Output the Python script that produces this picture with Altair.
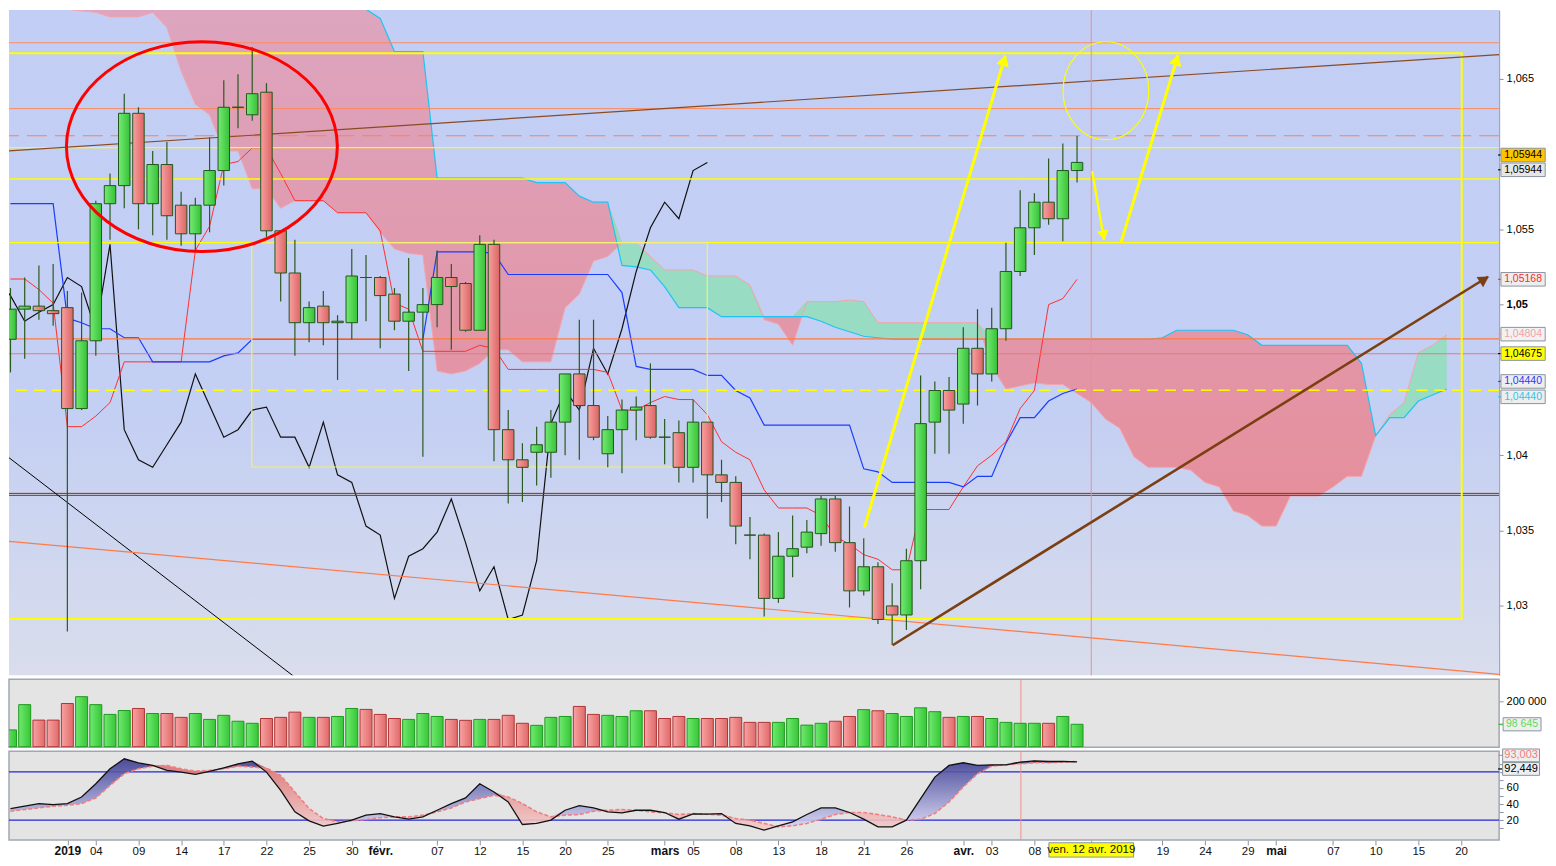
import altair as alt
import pandas as pd

# plot-area sizes (px)
W = 1494
H_PRICE, H_VOL, H_STO = 667, 68, 89
FONT = "Liberation Sans"

# x = trading-day index: 0 = 26 déc. 2018 ... 75 = 11 avr. 2019, then future days (cloud)
X_DOMAIN = [-0.104, 104.68]
P_DOMAIN = [1.02539, 1.06955]

# ---------------- data ----------------
open_ = [1.0477, 1.0497, 1.0499, 1.0496, 1.0498, 1.0431, 1.0476, 1.0567, 1.0579, 1.0627,
         1.0567, 1.0593, 1.0566, 1.0547, 1.0566, 1.0589, 1.0631, 1.0626, 1.0641, 1.0549,
         1.0521, 1.0488, 1.0499, 1.0488, 1.0488, 1.0518, 1.0518, 1.0507, 1.0489, 1.0495,
         1.0500, 1.0518, 1.0514, 1.0483, 1.0540, 1.0417, 1.0397, 1.0402, 1.0402, 1.0422,
         1.0454, 1.0433, 1.0401, 1.0417, 1.0430, 1.0433, 1.0412, 1.0415, 1.0392, 1.0422,
         1.0387, 1.0382, 1.0347, 1.0347, 1.0305, 1.0333, 1.0339, 1.0348, 1.0371, 1.0342,
         1.0310, 1.0326, 1.0300, 1.0294, 1.0330, 1.0422, 1.0443, 1.0434, 1.0471, 1.0454,
         1.0484, 1.0522, 1.0551, 1.0568, 1.0557, 1.0589]
high = [1.0511, 1.0518, 1.0526, 1.0527, 1.0509, 1.0508, 1.0569, 1.0587, 1.0640, 1.0631,
        1.0602, 1.0608, 1.0575, 1.0571, 1.0611, 1.0649, 1.0653, 1.0671, 1.0647, 1.0549,
        1.0543, 1.0502, 1.0509, 1.0493, 1.0537, 1.0533, 1.0519, 1.0511, 1.0531, 1.0511,
        1.0536, 1.0527, 1.0515, 1.0546, 1.0543, 1.0430, 1.0408, 1.0419, 1.0430, 1.0454,
        1.0490, 1.0490, 1.0426, 1.0437, 1.0439, 1.0461, 1.0424, 1.0423, 1.0437, 1.0422,
        1.0397, 1.0386, 1.0359, 1.0348, 1.0349, 1.0360, 1.0357, 1.0373, 1.0373, 1.0366,
        1.0345, 1.0329, 1.0315, 1.0338, 1.0453, 1.0449, 1.0452, 1.0485, 1.0497, 1.0498,
        1.0541, 1.0576, 1.0574, 1.0597, 1.0607, 1.0612]
low = [1.0455, 1.0464, 1.0490, 1.0486, 1.0283, 1.0430, 1.0466, 1.0543, 1.0564, 1.0550,
       1.0546, 1.0543, 1.0539, 1.0535, 1.0548, 1.0579, 1.0617, 1.0622, 1.0545, 1.0502,
       1.0466, 1.0475, 1.0473, 1.0450, 1.0477, 1.0489, 1.0471, 1.0483, 1.0456, 1.0399,
       1.0485, 1.0470, 1.0482, 1.0483, 1.0396, 1.0368, 1.0369, 1.0380, 1.0385, 1.0400,
       1.0397, 1.0410, 1.0392, 1.0388, 1.0410, 1.0411, 1.0394, 1.0382, 1.0382, 1.0358,
       1.0369, 1.0341, 1.0331, 1.0293, 1.0302, 1.0319, 1.0335, 1.0340, 1.0336, 1.0299,
       1.0307, 1.0288, 1.0274, 1.0284, 1.0311, 1.0401, 1.0401, 1.0421, 1.0433, 1.0449,
       1.0476, 1.0519, 1.0533, 1.0553, 1.0542, 1.0581]
close = [1.0497, 1.0499, 1.0496, 1.0494, 1.0431, 1.0476, 1.0567, 1.0579, 1.0627, 1.0567,
         1.0593, 1.0559, 1.0547, 1.0566, 1.0589, 1.0631, 1.0631, 1.0640, 1.0549, 1.0521,
         1.0488, 1.0498, 1.0488, 1.0489, 1.0519, 1.0518, 1.0506, 1.0489, 1.0495, 1.0500,
         1.0518, 1.0512, 1.0483, 1.0540, 1.0417, 1.0397, 1.0392, 1.0407, 1.0422, 1.0454,
         1.0433, 1.0412, 1.0417, 1.0430, 1.0432, 1.0412, 1.0412, 1.0392, 1.0422, 1.0387,
         1.0382, 1.0353, 1.0347, 1.0305, 1.0333, 1.0338, 1.0349, 1.0371, 1.0342, 1.0310,
         1.0326, 1.0291, 1.0294, 1.0330, 1.0421, 1.0443, 1.0430, 1.0471, 1.0454, 1.0484,
         1.0522, 1.0551, 1.0568, 1.0557, 1.0589, 1.05944]

tenkan = [1.0517, 1.0517, 1.0510, 1.0501, 1.0419, 1.0419, 1.0426, 1.0435, 1.0462, 1.0462,
          1.0462, 1.0462, 1.0462, 1.0536, 1.0552, 1.0593, 1.0595, 1.0604, 1.0604, 1.0587,
          1.0569, 1.0569, 1.0569, 1.0561, 1.0561, 1.0561, 1.0549, 1.0501, 1.0497, 1.0469,
          1.0469, 1.0469, 1.0469, 1.0473, 1.0471, 1.0457, 1.0457, 1.0457, 1.0457, 1.0457,
          1.0457, 1.0457, 1.0455, 1.0430, 1.0430, 1.0435, 1.0439, 1.0437, 1.0437, 1.0427,
          1.0409, 1.0402, 1.0397, 1.0377, 1.0365, 1.0365, 1.0365, 1.0360, 1.0346, 1.0341,
          1.0334, 1.0331, 1.0324, 1.0324, 1.0364, 1.0364, 1.0364, 1.0379, 1.0393, 1.0400,
          1.0409, 1.0431, 1.0443, 1.0500, 1.0504, 1.05168]
kijun = [1.0567, 1.0567, 1.0567, 1.0567, 1.0491, 1.0488, 1.0484, 1.0484, 1.0478, 1.0478,
         1.0462, 1.0462, 1.0462, 1.0462, 1.0462, 1.0466, 1.0468, 1.0477, 1.0477, 1.0477,
         1.0477, 1.0477, 1.0477, 1.0477, 1.0477, 1.0477, 1.0477, 1.0477, 1.0477, 1.0477,
         1.0535, 1.0535, 1.0535, 1.0535, 1.0534, 1.0520, 1.0520, 1.0520, 1.0520, 1.0520,
         1.0520, 1.0520, 1.0520, 1.0508, 1.0459, 1.0457, 1.0457, 1.0457, 1.0457, 1.0453,
         1.0453, 1.0443, 1.0438, 1.0420, 1.0420, 1.0420, 1.0420, 1.0420, 1.0420, 1.0420,
         1.0391, 1.0389, 1.0382, 1.0382, 1.0382, 1.0382, 1.0382, 1.0379, 1.0386, 1.0386,
         1.0408, 1.0425, 1.0425, 1.0436, 1.0441, 1.0444]

# cloud spans, index 0..101 (26 days beyond the last candle)
senkou_a = [1.0715, 1.0708, 1.0703, 1.0699, 1.0696, 1.0695, 1.0694, 1.0691, 1.0691, 1.0691,
            1.0694, 1.0684, 1.0655, 1.0633, 1.0626, 1.0602, 1.0602, 1.0577, 1.0577, 1.0564,
            1.0569, 1.0569, 1.0569, 1.0561, 1.0561, 1.0561, 1.0548, 1.0537, 1.0534, 1.0533,
            1.0456, 1.0454, 1.0456, 1.0461, 1.0470, 1.0470, 1.0462, 1.0462, 1.0462, 1.0498,
            1.0507, 1.0529, 1.0532, 1.0541, 1.0541, 1.0532, 1.0523, 1.0523, 1.0523, 1.0519,
            1.0519, 1.0519, 1.0513, 1.0490, 1.0487, 1.0473, 1.0502, 1.0502, 1.0502, 1.0503,
            1.0502, 1.0488, 1.0488, 1.0488, 1.0488, 1.0488, 1.0488, 1.0488, 1.0488, 1.0459,
            1.0444, 1.0446, 1.0448, 1.0447, 1.0447, 1.0441, 1.0435, 1.0424, 1.0418, 1.0399,
            1.0392, 1.0392, 1.0392, 1.0390, 1.0382, 1.0379, 1.0363, 1.0360, 1.0353, 1.0353,
            1.0373, 1.0373, 1.0373, 1.0379, 1.0386, 1.0386, 1.0413, 1.0427, 1.0435, 1.0468,
            1.0473, 1.0480]
senkou_b = [1.0734] * 24 + [
            1.0696, 1.0696, 1.0690, 1.0668, 1.0668, 1.0668,
            1.0584, 1.0584, 1.0584, 1.0584, 1.0584, 1.0584, 1.0584,
            1.0581, 1.0581, 1.0581, 1.0572, 1.0568, 1.0568,
            1.0526, 1.0525, 1.0523, 1.0512, 1.0498, 1.0498, 1.0498,
            1.0492, 1.0492, 1.0492, 1.0492, 1.0492, 1.0492, 1.0492,
            1.0489, 1.0485, 1.0482, 1.0479, 1.0478] + [1.0477] * 19 + [
            1.0478, 1.0483, 1.0483, 1.0483, 1.0483, 1.0483, 1.0480,
            1.0473, 1.0473, 1.0473, 1.0473, 1.0473, 1.0473, 1.0473,
            1.0461, 1.0413, 1.0425, 1.0425, 1.0436, 1.0440, 1.0444]

volume = [74000, 185000, 117000, 117000, 190000, 220000, 185000, 142000, 159000, 168000,
          146000, 146000, 129000, 146000, 120000, 138000, 112000, 103000, 124000, 129000,
          152000, 129000, 129000, 133000, 168000, 164000, 142000, 124000, 120000, 146000,
          133000, 120000, 116000, 120000, 120000, 138000, 103000, 94000, 129000, 133000,
          177000, 142000, 138000, 133000, 158000, 158000, 124000, 133000, 124000, 124000,
          124000, 129000, 107000, 107000, 107000, 124000, 95000, 103000, 112000, 133000,
          163000, 158000, 146000, 133000, 171000, 154000, 129000, 133000, 133000, 124000,
          107000, 103000, 103000, 103000, 133000, 98645]
vol_up = [1, 1, 0, 0, 0, 1, 1, 1, 1, 0, 1, 0, 0, 1, 1, 1, 1, 1, 0, 0,
          0, 1, 0, 1, 1, 0, 0, 0, 1, 1, 1, 0, 0, 1, 0, 0, 0, 1, 1, 1,
          0, 0, 1, 1, 1, 0, 0, 0, 1, 0, 0, 0, 0, 0, 1, 1, 1, 1, 0, 0,
          1, 0, 1, 1, 1, 1, 0, 1, 0, 1, 1, 1, 1, 0, 1, 1]

stoch_k = [34.4, 37.3, 40.6, 39.3, 40.6, 48.8, 65.3, 83.8, 96.2, 91.3,
           88.0, 81.8, 79.7, 76.8, 80.5, 85.1, 90.0, 93.3, 79.7, 57.1,
           30.3, 19.2, 12.6, 15.9, 20.0, 26.2, 28.2, 24.1, 21.2, 24.1,
           32.3, 40.6, 47.6, 65.3, 55.0, 42.6, 14.6, 15.9, 20.0, 32.3,
           38.1, 35.2, 30.3, 29.1, 32.3, 32.3, 29.5, 21.2, 27.8, 27.4,
           28.2, 15.9, 13.0, 7.6, 13.0, 17.9, 27.0, 35.2, 35.2, 29.5,
           21.2, 11.7, 11.7, 20.0, 46.8, 73.5, 88.0, 91.3, 88.0, 88.8,
           88.8, 92.1, 93.7, 92.9, 92.9, 92.45]
stoch_d = [31.1, 33.2, 35.2, 37.3, 38.5, 40.6, 47.6, 63.2, 77.7, 83.8,
           87.1, 88.0, 83.8, 80.9, 81.8, 83.8, 87.1, 85.9, 84.7, 75.6,
           55.0, 34.4, 22.0, 17.9, 19.2, 20.8, 22.9, 24.1, 24.1, 26.2,
           30.3, 35.2, 42.6, 46.8, 50.9, 48.8, 40.6, 30.3, 24.1, 26.2,
           27.0, 31.1, 32.3, 33.2, 32.3, 30.3, 29.1, 27.0, 28.2, 27.4,
           26.2, 22.0, 20.0, 15.9, 11.7, 13.0, 15.9, 21.2, 27.0, 29.5,
           29.5, 27.0, 24.1, 20.0, 21.2, 28.2, 42.6, 61.2, 77.7, 87.1,
           88.8, 90.0, 91.3, 91.3, 92.1, 93.0]

tick_idx = [4, 6, 9, 12, 15, 18, 21, 24, 26, 30, 33, 36, 39, 42, 46, 48, 51, 54, 57, 60,
            63, 67, 69, 72, 76, 81, 84, 87, 89, 93, 96, 99, 102]
tick_txt = ["2019", "04", "09", "14", "17", "22", "25", "30", "févr.", "07", "12", "15",
            "20", "25", "mars", "05", "08", "13", "18", "21", "26", "avr.", "03", "08", "",
            "19", "24", "29", "mai", "07", "10", "15", "20"]
month_idx = [4, 26, 46, 67, 89]

# ---------------- helpers ----------------
# padding=0: stop Vega-Lite from padding the x range for the bar marks
xs = alt.Scale(domain=X_DOMAIN, nice=False, zero=False, padding=0)
ps = alt.Scale(domain=P_DOMAIN, nice=False, zero=False)

# 1,06 and 1,045 sit under the value tags, so only their ticks show
price_axis = alt.Axis(
    orient="right", values=[1.03, 1.035, 1.04, 1.045, 1.05, 1.055, 1.06, 1.065],
    labelExpr="datum.value == 1.045 || datum.value == 1.06 ? '' : replace(format(datum.value, '.3~f'), '.', ',')",
    labelFontWeight={"condition": {"test": "datum.value == 1.05", "value": "bold"}, "value": "normal"},
    labelFont=FONT, labelFontSize=11, labelColor="#000000", labelPadding=3,
    tickSize=4, tickColor="#8a94a6", domainColor="#8a94a6", grid=False, title=None)


def X(f, axis=None):
    return alt.X(f, type="quantitative", scale=xs, axis=axis, title=None)


def PY(f):
    return alt.Y(f, type="quantitative", scale=ps, axis=price_axis, title=None)


def vgrad(stops):
    return alt.LinearGradient(gradient="linear", x1=0, x2=0, y1=0, y2=1,
                              stops=[alt.GradientStop(color=c, offset=o) for o, c in stops])


def hgrad(c0, c1):
    return alt.LinearGradient(gradient="linear", x1=0, x2=1, y1=0, y2=0,
                              stops=[alt.GradientStop(color=c0, offset=0),
                                     alt.GradientStop(color=c1, offset=1)])


one = pd.DataFrame({"k": [0]})


def hline(p, color, width=1.0, dash=None):
    kw = {"strokeDash": dash} if dash else {}
    return alt.Chart(pd.DataFrame({"p": [p]})).mark_rule(
        color=color, strokeWidth=width, clip=True, **kw).encode(y=PY("p"))


def seg(i0, p0, i1, p1, color, width=1.0):
    d = pd.DataFrame({"i": [i0, i1], "p": [p0, p1]})
    return alt.Chart(d).mark_line(color=color, strokeWidth=width, clip=True).encode(
        x=X("i"), y=PY("p"))


def box(i0, i1, p0, p1, color, width):
    d = pd.DataFrame({"i0": [i0], "i1": [i1], "p0": [p0], "p1": [p1]})
    return alt.Chart(d).mark_rect(fillOpacity=0, stroke=color, strokeWidth=width, clip=True).encode(
        x=X("i0"), x2="i1", y=PY("p0"), y2="p1")


def head(i, p, color, angle, size=170):
    d = pd.DataFrame({"i": [i], "p": [p]})
    return alt.Chart(d).mark_point(shape="triangle-right", filled=True, color=color, opacity=1,
                                   size=size, angle=angle).encode(x=X("i"), y=PY("p"))


def ellipse(i, p, rx, ry, color, width):
    big = max(rx, ry)
    a, b = rx / big, ry / big
    c = 0.5523
    path = (f"M {-a} 0 C {-a} {-c*b:.4f} {-c*a:.4f} {-b} 0 {-b} C {c*a:.4f} {-b} {a} {-c*b:.4f} {a} 0 "
            f"C {a} {c*b:.4f} {c*a:.4f} {b} 0 {b} C {-c*a:.4f} {b} {-a} {c*b:.4f} {-a} 0 Z")
    d = pd.DataFrame({"i": [i], "p": [p]})
    return alt.Chart(d).mark_point(shape=path, size=(2 * big) ** 2, filled=False, stroke=color,
                                   strokeWidth=width, opacity=1).encode(x=X("i"), y=PY("p"))


def tag_shape(hw, hh):
    r = hh / hw
    return f"M -1 {-r:.3f} L 1 {-r:.3f} L 1 {r:.3f} L -1 {r:.3f} Z"


# ---------------- price panel ----------------
n = len(close)
candles = pd.DataFrame({"i": range(n), "o": open_, "h": high, "l": low, "c": close})
cloud = pd.DataFrame({"i": range(len(senkou_a)), "a": senkou_a, "b": senkou_b})
lines = pd.DataFrame({"i": range(n), "tenkan": tenkan, "kijun": kijun})
chikou = pd.DataFrame({"i": [k - 26 for k in range(n)], "p": close})

bg = alt.Chart(one).mark_rect(
    fill=vgrad([(0, "#c2cef5"), (0.6, "#c3cff3"), (1, "#d9ddec")])).encode(
    x=alt.value(0), x2=alt.value(W), y=alt.value(0), y2=alt.value(H_PRICE))

cloud_red = alt.Chart(cloud).transform_calculate(top="max(datum.a, datum.b)").mark_area(
    fill=vgrad([(0, "#dea6c0"), (0.35, "#e09cb2"), (1, "#e88a96")]), opacity=0.95,
    clip=True).encode(x=X("i"), y=PY("a"), y2="top:Q")
cloud_green = alt.Chart(cloud).transform_calculate(top="max(datum.a, datum.b)").mark_area(
    color="#96dcc0", opacity=0.95, clip=True).encode(x=X("i"), y=PY("b"), y2="top:Q")
span_a = alt.Chart(cloud).mark_line(color="#f4a4ac", strokeWidth=1, clip=True).encode(
    x=X("i"), y=PY("a"))
span_b = alt.Chart(cloud).mark_line(color="#1ec4f2", strokeWidth=1.2, clip=True).encode(
    x=X("i"), y=PY("b"))

layers = [bg, cloud_red, cloud_green, span_a, span_b]

# chikou, tenkan, kijun
layers += [
    alt.Chart(chikou).mark_line(color="#111111", strokeWidth=1.2, clip=True).encode(
        x=X("i"), y=PY("p")),
    alt.Chart(lines).mark_line(color="#ff3030", strokeWidth=1, clip=True).encode(
        x=X("i"), y=PY("tenkan")),
    alt.Chart(lines).mark_line(color="#1a3cff", strokeWidth=1.2, clip=True).encode(
        x=X("i"), y=PY("kijun")),
]

# horizontal levels, boxes and trend lines
layers += [
    hline(1.06738, "#ff8a5a", 1),
    hline(1.06301, "#ff8a5a", 1),
    hline(1.06121, "#ff8050", 1.2, [20, 8]),
    hline(1.06042, "#ffff00", 1.4),
    hline(1.05834, "#ffff00", 1.4),
    hline(1.05412, "#ffff00", 1.2),
    hline(1.04773, "#ff7a3c", 1.2),
    hline(1.04674, "#e87a7a", 1.2),
    hline(1.04432, "#ffff00", 1.4, [11, 7]),
    hline(1.03747, "#7a3a12", 1),
    hline(1.03734, "#7a3a12", 1),
    box(-5, 102.05, 1.06668, 1.02914, "#ffff00", 2),
    box(16.97, 49.0, 1.05412, 1.03922, "#f4f070", 1.2),
    seg(-0.104, 1.06020, 104.68, 1.06660, "#8a4a22", 1.2),
    seg(-0.104, 1.03984, 27.7, 1.01969, "#000000", 1),
    seg(-0.104, 1.03429, 104.68, 1.02546, "#ff7a48", 1.2),
]

cross_p = alt.Chart(pd.DataFrame({"i": [76.0]})).mark_rule(
    color="#e89090", strokeWidth=1).encode(x=X("i"))
layers.append(cross_p)

wick = alt.Chart(candles).mark_rule(color="#2a5a1f", strokeWidth=1.2).encode(
    x=X("i"), y=PY("l"), y2="h")
body_up = alt.Chart(candles).transform_filter("datum.c >= datum.o").mark_bar(
    width=11.5, fill=hgrad("#74ea74", "#36c236"), stroke="#23561b", strokeWidth=1, clip=True).encode(
    x=X("i"), y=PY("o"), y2="c")
body_dn = alt.Chart(candles).transform_filter("datum.c < datum.o").mark_bar(
    width=11.5, fill=hgrad("#f8a0a0", "#dc6464"), stroke="#23561b", strokeWidth=1, clip=True).encode(
    x=X("i"), y=PY("o"), y2="c")
layers += [wick, body_up, body_dn]

# drawings
layers += [
    ellipse(13.46, 1.06049, 135.8, 105.2, "#ff0000", 3),
    ellipse(77.03, 1.06420, 43.0, 49.1, "#ffff00", 1.2),
    seg(60.04, 1.03520, 69.95, 1.06650, "#ffff00", 3),
    head(69.87, 1.06622, "#ffff00", 286.5),
    seg(76.07, 1.05885, 76.90, 1.05430, "#ffff00", 2.5),
    head(76.86, 1.05459, "#ffff00", 80, 140),
    seg(78.1, 1.05416, 82.10, 1.06655, "#ffff00", 3),
    head(82.01, 1.06625, "#ffff00", 286.5),
    seg(62.03, 1.02739, 103.9, 1.05185, "#7b3f12", 2.6),
    head(103.64, 1.05168, "#7b3f12", 328, 150),
]

# right-hand value tags
ptags = pd.DataFrame({
    "p": [1.05993, 1.05895, 1.05168, 1.04804, 1.04675, 1.04490, 1.04388],
    "txt": ["1,05944", "1,05944", "1,05168", "1,04804", "1,04675", "1,04440", "1,04440"],
    "fill": ["#ffc400", "#e6e6e6", "#eeeeee", "#f2f2f2", "#ffff00", "#eeeeee", "#eeeeee"],
    "tcol": ["#000000", "#000000", "#ff2828", "#f4a0a8", "#000000", "#1a3cff", "#28c8f0"],
})
TAG = tag_shape(22.2, 6.8)
layers += [
    alt.Chart(ptags).mark_rule(strokeWidth=1.2).encode(
        x=alt.value(W - 1), x2=alt.value(W + 3), y=PY("p"), color=alt.Color("tcol:N", scale=None)),
    alt.Chart(ptags).mark_point(shape=TAG, size=44.4 ** 2, filled=True, stroke="#8a949e",
                                strokeWidth=1, opacity=1).encode(
        x=alt.value(W + 24), y=PY("p"), fill=alt.Fill("fill:N", scale=None)),
    alt.Chart(ptags).mark_text(font=FONT, fontSize=10.5, align="center", baseline="middle").encode(
        x=alt.value(W + 24), y=PY("p"), text="txt:N", color=alt.Color("tcol:N", scale=None)),
]

price = alt.layer(*layers).properties(width=W, height=H_PRICE)

# ---------------- volume panel ----------------
vol = pd.DataFrame({"i": range(n), "v": volume, "up": vol_up})
vs = alt.Scale(domain=[-2000, 296000], nice=False, zero=False)
vol_axis = alt.Axis(orient="right", values=[100000, 200000],
                    labelExpr="datum.value == 100000 ? '' : replace(format(datum.value, ','), ',', ' ')",
                    labelFont=FONT, labelFontSize=11, labelColor="#000000", labelPadding=3,
                    tickSize=4, tickColor="#8a94a6", domain=False, grid=False, title=None)


def VY(f):
    return alt.Y(f, type="quantitative", scale=vs, axis=vol_axis, title=None)


vol_layers = [
    alt.Chart(one).mark_rect(fill="#e4e4e4", stroke="#a0a8b2", strokeWidth=1.5).encode(
        x=alt.value(0), x2=alt.value(W), y=alt.value(0), y2=alt.value(H_VOL)),
    alt.Chart(pd.DataFrame({"i": [71.05]})).mark_rule(color="#f09090", strokeWidth=1).encode(x=X("i")),
    alt.Chart(vol).transform_filter("datum.up == 1").mark_bar(
        width=12, fill=hgrad("#70ea70", "#36c636"), stroke="#1e9a1e", strokeWidth=1, clip=True).encode(
        x=X("i"), y=VY("v"), y2=alt.datum(0)),
    alt.Chart(vol).transform_filter("datum.up == 0").mark_bar(
        width=12, fill=hgrad("#f8a2a2", "#e06a6a"), stroke="#b03434", strokeWidth=1, clip=True).encode(
        x=X("i"), y=VY("v"), y2=alt.datum(0)),
]
vtag = pd.DataFrame({"v": [98645], "txt": ["98 645"]})
vol_layers += [
    alt.Chart(vtag).mark_rule(color="#40c040", strokeWidth=1.2).encode(
        x=alt.value(W - 1), x2=alt.value(W + 4), y=VY("v")),
    alt.Chart(vtag).mark_point(shape=tag_shape(19, 6.6), size=38 ** 2, filled=True, fill="#eeeeee",
                               stroke="#8a949e", strokeWidth=1, opacity=1).encode(
        x=alt.value(W + 23), y=VY("v")),
    alt.Chart(vtag).mark_text(font=FONT, fontSize=10.5, color="#5adc5a", align="center",
                              baseline="middle").encode(x=alt.value(W + 23), y=VY("v"), text="txt:N"),
]
volume_panel = alt.layer(*vol_layers).properties(width=W, height=H_VOL)

# ---------------- stochastic panel ----------------
sto = pd.DataFrame({"i": range(n), "k": stoch_k, "d": stoch_d})
ss = alt.Scale(domain=[-4.6, 105.7], nice=False, zero=False)
sto_axis = alt.Axis(orient="right", values=[10, 20, 30, 40, 50, 60, 70, 80, 90],
                    labelExpr="datum.value % 20 == 0 && datum.value < 80 ? datum.value : ''",
                    labelFont=FONT, labelFontSize=11, labelColor="#000000", labelPadding=3,
                    tickSize=4, tickColor="#8a94a6", domain=False, grid=False, title=None)
bold_test = "indexof(" + str(month_idx) + ", datum.value) >= 0"
x_axis = alt.Axis(
    orient="bottom", values=tick_idx,
    labelExpr="[" + ",".join("'" + t + "'" for t in tick_txt) + "][indexof(" + str(tick_idx) + ", datum.value)]",
    labelFont=FONT, labelColor="#111111",
    labelFontSize={"condition": {"test": bold_test, "value": 12}, "value": 11.5},
    labelFontWeight={"condition": {"test": bold_test, "value": "bold"}, "value": "normal"},
    labelPadding=1, tickSize=5, tickColor="#8a94a6", domain=False, grid=False,
    labelOverlap=False, labelFlush=False, title=None)


def SX(f):
    return X(f, axis=x_axis)


def SY(f):
    return alt.Y(f, type="quantitative", scale=ss, axis=sto_axis, title=None)


sto_layers = [
    alt.Chart(one).mark_rect(fill="#e4e4e4", stroke="#a0a8b2", strokeWidth=1.5).encode(
        x=alt.value(0), x2=alt.value(W), y=alt.value(0), y2=alt.value(H_STO)),
    alt.Chart(pd.DataFrame({"s": [20, 80]})).mark_rule(color="#2626d6", strokeWidth=1.2).encode(y=SY("s")),
    alt.Chart(pd.DataFrame({"i": [71.05]})).mark_rule(color="#f09090", strokeWidth=1).encode(x=SX("i")),
    alt.Chart(sto).transform_calculate(top="max(datum.k, datum.d)").mark_area(
        fill=vgrad([(0, "#3a3a92"), (1, "#d4d4f4")]), opacity=0.9, clip=True).encode(
        x=SX("i"), y=SY("top:Q"), y2="d"),
    alt.Chart(sto).transform_calculate(top="max(datum.k, datum.d)").mark_area(
        fill=vgrad([(0, "#d86a6a"), (1, "#f4cccc")]), opacity=0.9, clip=True).encode(
        x=SX("i"), y=SY("top:Q"), y2="k"),
    alt.Chart(sto).mark_line(color="#f08080", strokeWidth=1.6, strokeDash=[4, 2], clip=True).encode(
        x=SX("i"), y=SY("d")),
    alt.Chart(sto).mark_line(color="#111111", strokeWidth=1.3, clip=True).encode(x=SX("i"), y=SY("k")),
]
stags = pd.DataFrame({"s": [100.5, 83.6], "txt": ["93,003", "92,449"],
                      "tcol": ["#f08080", "#000000"]})
sto_layers += [
    alt.Chart(stags).mark_rule(strokeWidth=1.2).encode(
        x=alt.value(W - 1), x2=alt.value(W + 4), y=SY("s"), color=alt.Color("tcol:N", scale=None)),
    alt.Chart(stags).mark_point(shape=tag_shape(18.5, 6.4), size=37 ** 2, filled=True, fill="#eeeeee",
                                stroke="#8a949e", strokeWidth=1, opacity=1).encode(
        x=alt.value(W + 22), y=SY("s")),
    alt.Chart(stags).mark_text(font=FONT, fontSize=11, align="center", baseline="middle").encode(
        x=alt.value(W + 22), y=SY("s"), text="txt:N", color=alt.Color("tcol:N", scale=None)),
]
# cursor date tag under the axis
dtag = pd.DataFrame({"i": [76], "txt": ["ven. 12 avr. 2019"]})
sto_layers += [
    alt.Chart(dtag).mark_point(shape=tag_shape(42.5, 7.2), size=85 ** 2, filled=True, fill="#ffff00",
                               stroke="#8a949e", strokeWidth=1, opacity=1).encode(
        x=SX("i"), y=alt.value(H_STO + 10)),
    alt.Chart(dtag).mark_text(font=FONT, fontSize=11.5, color="#111111", align="center",
                              baseline="middle").encode(x=SX("i"), y=alt.value(H_STO + 10.5), text="txt:N"),
]
stoch_panel = alt.layer(*sto_layers).properties(width=W, height=H_STO)

chart = alt.vconcat(price, volume_panel, stoch_panel, spacing=4, bounds="flush").properties(
    padding=0, background="#ffffff").configure_view(stroke=None)

chart.save("out.html", embed_options={"renderer": "svg", "actions": False})
